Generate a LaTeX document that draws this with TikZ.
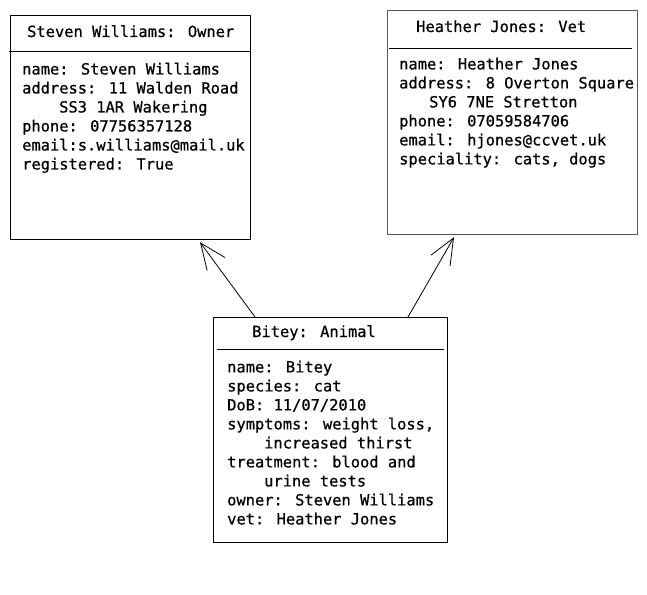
\documentclass[tikz,border=0pt]{standalone}
\usepackage{fontspec}
\usetikzlibrary{arrows.meta,positioning}
\newfontfamily\objfont[FakeBold=0.6]{DejaVu Sans Mono}

\begin{document}
\begin{tikzpicture}[x=1pt,y=-1pt,
    objbox/.style={draw,line width=1.2pt,inner sep=0pt,anchor=north west},
    objtitle/.style={anchor=base west,inner sep=0pt,font=\objfont\fontsize{15.4}{19}\selectfont},
    objattr/.style={anchor=north west,inner sep=0pt,align=left,font=\objfont\fontsize{15.4}{19}\selectfont,
        execute at begin node={\rule{0pt}{12pt}}},
    link/.style={line width=0.8pt,-{Straight Barb[length=26pt,width=22pt,line width=0.8pt]}}]
    \useasboundingbox (0,0) rectangle (647,594);

    % owner
    \node[objbox,minimum width=240pt,minimum height=224pt] (owner) at (10,15) {};
    \node[objtitle] (ownertitle) at (27,37) {Steven Williams: Owner};
    \draw[line width=0.9pt] ([shift={(-1pt,-36pt)}]owner.north west) -- ([yshift=-36pt]owner.north east);
    \node[objattr] (ownerattr) at (22,62.5) {name: Steven Williams\\
        address: 11 Walden Road\\
        \hspace*{37pt}SS3 1AR Wakering\\
        phone: 07756357128\\
        email:s.williams@mail.uk\\
        registered: True};

    % vet
    \node[objbox,draw=black!65,minimum width=250pt,minimum height=224pt] (vet) at (387,10) {};
    \node[objtitle] (vettitle) at (416,32) {Heather Jones: Vet};
    \draw[line width=0.9pt] ([shift={(2pt,-38pt)}]vet.north west) -- ([shift={(-6pt,-38pt)}]vet.north east);
    \node[objattr] (vetattr) at (399,57.5) {name: Heather Jones\\
        address: 8 Overton Square\\
        \hspace*{30pt}SY6 7NE Stretton\\
        phone: 07059584706\\
        email: hjones@ccvet.uk\\
        speciality: cats, dogs};

    % animal
    \node[objbox,minimum width=234pt,minimum height=225pt] (animal) at (213,317) {};
    \node[objtitle] (animaltitle) at (252,337) {Bitey: Animal};
    \draw[line width=0.9pt] ([shift={(4pt,-32pt)}]animal.north west) -- ([shift={(-4pt,-32pt)}]animal.north east);
    \node[objattr] (animalattr) at (227,360.5) {name: Bitey\\
        species: cat\\
        DoB: 11/07/2010\\
        symptoms: weight loss,\\
        \hspace*{37pt}increased thirst\\
        treatment: blood and\\
        \hspace*{37pt}urine tests\\
        owner: Steven Williams\\
        vet: Heather Jones};

    % links
    \draw[link] ([xshift=42pt]animal.north west) -- ([shift={(190pt,-2pt)}]owner.south west);
    \draw[link] ([xshift=195pt]animal.north west) -- ([shift={(67pt,-2pt)}]vet.south west);
\end{tikzpicture}
\end{document}
